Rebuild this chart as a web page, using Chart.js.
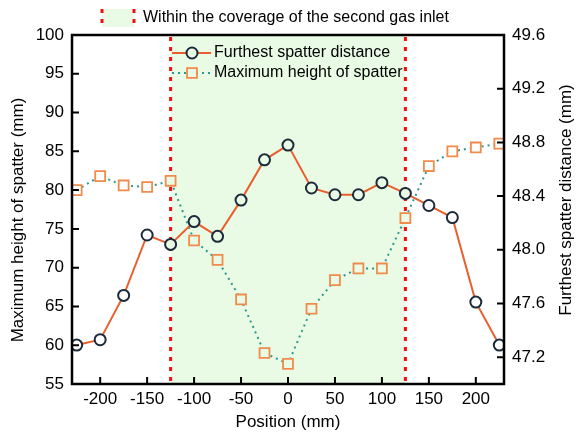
<!DOCTYPE html>
<html>
<head>
<meta charset="utf-8">
<script src="https://cdn.jsdelivr.net/npm/chart.js@4/dist/chart.umd.min.js"></script>
<style>
  html, body { margin: 0; padding: 0; background: #fff; }
  #wrap { position: relative; width: 576px; height: 436px; }
</style>
</head>
<body>
<div id="wrap"><canvas id="chart"></canvas></div>
<script>
// positions along the track (mm)
const positions = [-225, -200, -175, -150, -125, -100, -75, -50, -25, 0, 25, 50, 75, 100, 125, 150, 175, 200, 225];
// furthest spatter distance (mm), right axis
const furthestDistance = [47.29, 47.33, 47.66, 48.11, 48.04, 48.21, 48.10, 48.37, 48.67, 48.78, 48.46, 48.41, 48.41, 48.50, 48.42, 48.33, 48.24, 47.61, 47.29];
// maximum height of spatter (mm), left axis
const maxHeight = [80.0, 81.8, 80.6, 80.4, 81.2, 73.5, 71.0, 65.9, 59.0, 57.6, 64.7, 68.4, 69.9, 69.9, 76.4, 83.1, 85.0, 85.5, 86.0];

const xTicks = [-200, -150, -100, -50, 0, 50, 100, 150, 200];
const leftTicks = [55, 60, 65, 70, 75, 80, 85, 90, 95, 100];
const rightTicks = [47.2, 47.6, 48.0, 48.4, 48.8, 49.2, 49.6];
// second gas inlet coverage (mm)
const coverage = [-125, 125];

const GREEN = '#e9fbe5';
const RED = '#f01010';
const FONT = '"Liberation Sans", Arial, sans-serif';

const inCover = (v) => v >= coverage[0] && v <= coverage[1];
const minus = (v) => String(v).replace('-', '\u2212');

const setTicks = (vals, fmt) => (scale) => { scale.ticks = vals.map(v => ({ value: v, label: fmt ? fmt(v) : String(v) })); };

function redDots(ctx, x, y0, y1) {
  ctx.save();
  ctx.strokeStyle = RED; ctx.lineWidth = 3; ctx.setLineDash([4, 6]);
  ctx.beginPath(); ctx.moveTo(x, y0); ctx.lineTo(x, y1); ctx.stroke();
  ctx.restore();
}

function vTitle(ctx, text, cx, cy) {
  ctx.save();
  ctx.translate(cx, cy); ctx.rotate(-Math.PI / 2);
  ctx.font = '17px ' + FONT; ctx.fillStyle = '#000';
  ctx.textAlign = 'center'; ctx.textBaseline = 'middle';
  ctx.fillText(text, 0, 0);
  ctx.restore();
}

const decor = {
  id: 'decor',
  beforeDatasetsDraw(chart) {
    const { ctx, chartArea: a, scales: { x } } = chart;
    const x0 = x.getPixelForValue(coverage[0]), x1 = x.getPixelForValue(coverage[1]);
    ctx.save();
    ctx.fillStyle = GREEN;
    ctx.fillRect(x0, a.top, x1 - x0, a.bottom - a.top);
    ctx.restore();
    redDots(ctx, x0, a.top + 2, a.bottom);
    redDots(ctx, x1, a.top + 2, a.bottom);
  },
  afterDraw(chart) {
    const { ctx, chartArea: a, scales } = chart;
    ctx.save();
    // inward ticks
    ctx.strokeStyle = '#000'; ctx.lineWidth = 2;
    ctx.beginPath();
    scales.x.ticks.forEach(t => { const p = scales.x.getPixelForValue(t.value); ctx.moveTo(p, a.bottom); ctx.lineTo(p, a.bottom - 7); });
    scales.y.ticks.forEach(t => { const p = scales.y.getPixelForValue(t.value); ctx.moveTo(a.left, p); ctx.lineTo(a.left + 7, p); });
    scales.y2.ticks.forEach(t => { const p = scales.y2.getPixelForValue(t.value); ctx.moveTo(a.right, p); ctx.lineTo(a.right - 7, p); });
    ctx.stroke();
    // frame
    ctx.lineWidth = 2.5;
    ctx.strokeRect(a.left, a.top, a.right - a.left, a.bottom - a.top);

    // axis titles, both reading upward
    vTitle(ctx, 'Maximum height of spatter (mm)', 18, 220);
    vTitle(ctx, 'Furthest spatter distance (mm)', 566, 200);

    // inner legend
    const ds = chart.data.datasets;
    const lx0 = 172, lx1 = 211, mx = 192;
    ctx.font = '16px ' + FONT; ctx.textBaseline = 'middle'; ctx.fillStyle = '#000';
    [[ds[0], 53], [ds[1], 73]].forEach(([d, y]) => {
      ctx.save();
      ctx.strokeStyle = d.borderColor; ctx.lineWidth = d.borderWidth; ctx.setLineDash(d.borderDash || []);
      ctx.beginPath(); ctx.moveTo(lx0, y); ctx.lineTo(lx1, y); ctx.stroke();
      ctx.restore();
      ctx.save();
      ctx.fillStyle = GREEN; ctx.strokeStyle = d.pointBorderColor; ctx.lineWidth = d.pointBorderWidth;
      Chart.helpers.drawPoint(ctx, { pointStyle: d.pointStyle, radius: d.pointRadius, borderWidth: d.pointBorderWidth }, mx, y);
      ctx.restore();
      ctx.fillText(d.label, 214, y);
    });

    // top legend for the shaded band
    ctx.fillStyle = GREEN;
    ctx.fillRect(102, 9, 32, 18);
    redDots(ctx, 102, 9, 27);
    redDots(ctx, 134, 9, 27);
    ctx.fillStyle = '#000';
    ctx.fillText('Within the coverage of the second gas inlet', 143, 18);
    ctx.restore();
  }
};

new Chart(document.getElementById('chart').getContext('2d'), {
  type: 'line',
  data: {
    datasets: [
      {
        label: 'Furthest spatter distance',
        data: positions.map((p, i) => ({ x: p, y: furthestDistance[i] })),
        yAxisID: 'y2',
        borderColor: '#e8602f', borderWidth: 2, tension: 0,
        pointStyle: 'circle', pointRadius: 5.5, pointBorderWidth: 2,
        pointBorderColor: '#1c2b3b',
        pointBackgroundColor: (c) => inCover(c.raw?.x) ? GREEN : '#fff',
        order: 0
      },
      {
        label: 'Maximum height of spatter',
        data: positions.map((p, i) => ({ x: p, y: maxHeight[i] })),
        yAxisID: 'y',
        borderColor: '#2b9a92', borderWidth: 2, borderDash: [2, 4], tension: 0,
        pointStyle: 'rect', pointRadius: 7, pointBorderWidth: 1.8,
        pointBorderColor: '#f08b4c',
        pointBackgroundColor: (c) => inCover(c.raw?.x) ? GREEN : '#fff',
        order: 1
      }
    ]
  },
  options: {
    responsive: true,
    maintainAspectRatio: false,
    animation: false,
    layout: { padding: { top: 35, left: 0, right: 0, bottom: 0 } },
    plugins: { legend: { display: false }, tooltip: { enabled: false } },
    scales: {
      x: {
        type: 'linear', min: -230, max: 230,
        afterBuildTicks: setTicks(xTicks, minus),
        afterFit: (s) => { s.height = 52; },
        grid: { display: false, drawTicks: false }, border: { display: false },
        ticks: { color: '#000', font: { family: FONT, size: 17 }, padding: 5, maxRotation: 0, autoSkip: false },
        title: { display: true, text: 'Position (mm)', color: '#000', font: { family: FONT, size: 17 }, padding: { top: 0, bottom: 3 } }
      },
      y: {
        position: 'left', min: 55, max: 100,
        afterBuildTicks: setTicks(leftTicks),
        afterFit: (s) => { s.width = 72; },
        grid: { display: false, drawTicks: false }, border: { display: false },
        ticks: { color: '#000', font: { family: FONT, size: 17 }, padding: 8, autoSkip: false }
      },
      y2: {
        position: 'right', min: 47.0, max: 49.6,
        afterBuildTicks: setTicks(rightTicks, v => v.toFixed(1)),
        afterFit: (s) => { s.width = 72; },
        grid: { display: false, drawTicks: false }, border: { display: false },
        ticks: { color: '#000', font: { family: FONT, size: 17 }, padding: 8, autoSkip: false }
      }
    }
  },
  plugins: [decor]
});
</script>
</body>
</html>
